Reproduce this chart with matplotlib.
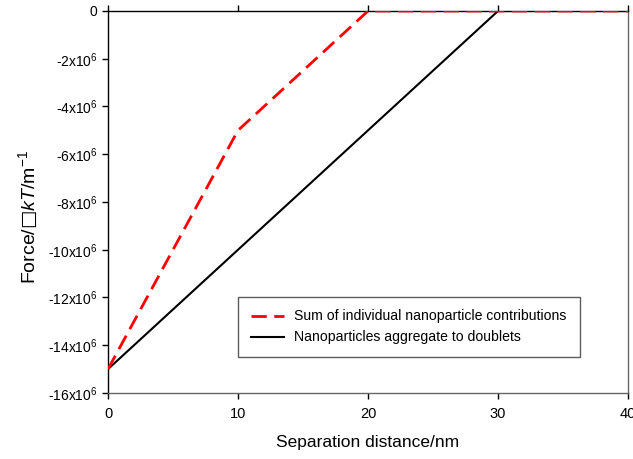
import matplotlib
matplotlib.use("Agg")
import matplotlib.pyplot as plt

plt.rcParams['font.family'] = ['Liberation Sans', 'DejaVu Sans']
plt.rcParams['mathtext.fontset'] = 'custom'
plt.rcParams['mathtext.rm'] = 'Liberation Sans'
plt.rcParams['mathtext.it'] = 'Liberation Sans:italic'
plt.rcParams['mathtext.bf'] = 'DejaVu Sans:bold'

sum_x = [0, 10, 20, 30, 40]
sum_y = [-15e6, -5e6, 0, 0, 0]
dbl_x = [0, 30, 40]
dbl_y = [-15e6, 0, 0]
xticks = [0, 10, 20, 30, 40]
yticks = [0, -2e6, -4e6, -6e6, -8e6, -10e6, -12e6, -14e6, -16e6]
ylabels = ['0'] + [r'-%dx10$^{6}$' % k for k in range(2, 17, 2)]

fig = plt.figure(figsize=(6.33, 4.59), dpi=100)
ax = fig.add_axes([108/633, 1-393/459, 520/633, 382/459])

ax.plot(dbl_x, dbl_y, color='black', lw=1.5, label='Nanoparticles aggregate to doublets', zorder=2)
ax.plot(sum_x, sum_y, color='red', lw=2, dashes=(5.5, 2.7), label='Sum of individual nanoparticle contributions', zorder=3)

ax.set_xlim(0, 40)
ax.set_ylim(-16e6, 0)
ax.set_xticks(xticks)
ax.set_xticklabels([str(v) for v in xticks], fontsize=10.5)
ax.set_yticks(yticks)
ax.set_yticklabels(ylabels, fontsize=10)
ax.tick_params(direction='out', length=4, width=1, top=True, labeltop=False)
ax.tick_params(axis='x', pad=6)
for s in ['right', 'bottom']:
    ax.spines[s].set_color('#666666')
for s in ['left', 'top']:
    ax.spines[s].set_color('black')
for s in ax.spines.values():
    s.set_linewidth(1)

ax.set_xlabel('Separation distance/nm', fontsize=12.5, labelpad=10)
ax.set_ylabel('Force/$\\mathbf{\u25a1}$$\\mathit{kT}$/m$^{-1}$', fontsize=14, labelpad=3)
ax.yaxis.set_label_coords(-0.131, 0.46)

handles, labels = ax.get_legend_handles_labels()
leg = ax.legend(handles[::-1], labels[::-1], loc='lower left',
                bbox_to_anchor=(0.25, 0.094, 0.6577, 0.157), mode='expand',
                fontsize=10.1, frameon=True, fancybox=False, edgecolor='#333333',
                handlelength=2.4, handletextpad=0.7, borderpad=0.9, labelspacing=0.5,
                borderaxespad=0)
leg.get_frame().set_linewidth(1)

fig.savefig('out.png', dpi=100)
